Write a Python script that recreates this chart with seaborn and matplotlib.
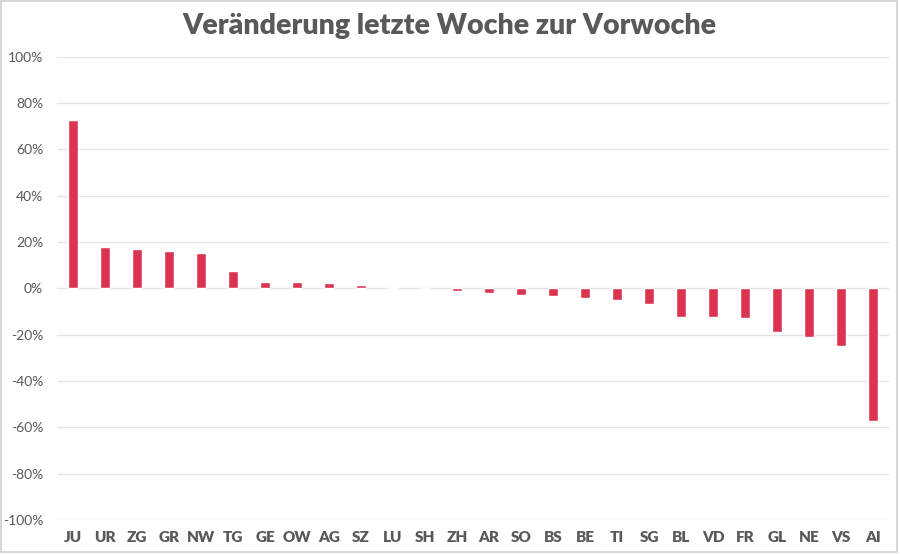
import pandas as pd
import matplotlib
matplotlib.use("Agg")
import matplotlib.pyplot as plt
import seaborn as sns
from matplotlib.patches import Rectangle
from matplotlib.ticker import PercentFormatter

# Kantone, sortiert nach Veränderung
kantone = ["JU", "UR", "ZG", "GR", "NW", "TG", "GE", "OW", "AG", "SZ", "LU", "SH", "ZH",
           "AR", "SO", "BS", "BE", "TI", "SG", "BL", "VD", "FR", "GL", "NE", "VS", "AI"]
veraenderung = [72.7, 17.9, 16.8, 16.1, 15.2, 7.4, 2.9, 2.7, 2.2, 1.5, 0.5, 0.0, -1.0,
                -2.0, -2.7, -3.2, -4.4, -4.9, -6.8, -12.5, -12.5, -12.7, -19.0, -21.2, -24.8, -57.5]
y_ticks = [-100, -80, -60, -40, -20, 0, 20, 40, 60, 80, 100]

df = pd.DataFrame({"kanton": kantone, "wert": [v / 100 for v in veraenderung]})

sns.set_style("white")
plt.rcParams["font.family"] = ["Lato", "DejaVu Sans"]
plt.rcParams["axes.unicode_minus"] = False
grey = "#595959"

fig = plt.figure(figsize=(9, 5.54), dpi=100)
ax = fig.add_axes([0.0633, 0.0614, 0.9247, 0.8366])

sns.barplot(data=df, x="kanton", y="wert", color="#DA3450", saturation=1,
            width=0.31, ax=ax, zorder=3)

ax.set_ylim(-1, 1)
ax.set_xlim(-0.5, len(kantone) - 0.5)
ax.set_yticks([t / 100 for t in y_ticks])
ax.yaxis.set_major_formatter(PercentFormatter(1.0, decimals=0))
ax.grid(axis="y", color="#E3E3E3", linewidth=1, zorder=0)
ax.set_axisbelow(True)
for s in ax.spines.values():
    s.set_visible(False)
ax.tick_params(axis="y", length=0, pad=10, labelsize=10, labelcolor=grey)
ax.tick_params(axis="x", length=0, pad=8, labelsize=11, labelcolor=grey)
for lab in ax.get_xticklabels():
    lab.set_fontweight("heavy")
ax.set_xlabel("")
ax.set_ylabel("")

fig.text(0.499, 0.953, "Veränderung letzte Woche zur Vorwoche", ha="center", va="center",
         fontsize=20.5, fontweight="heavy", color=grey)

# leichter Rahmen um die Grafik
fig.patches.append(Rectangle((0.001, 0.004), 0.996, 0.994, transform=fig.transFigure,
                             fill=False, edgecolor="#D0D0D0", linewidth=1.2))

fig.savefig("out.png", dpi=100)
